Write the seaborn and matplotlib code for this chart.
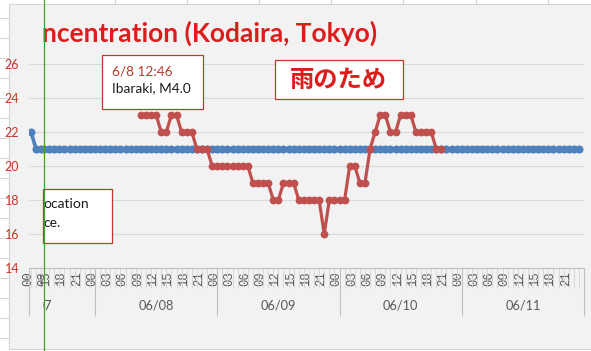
import matplotlib
matplotlib.use("Agg")
import matplotlib.pyplot as plt
from matplotlib.lines import Line2D
from matplotlib.patches import Rectangle
from matplotlib.transforms import Bbox, TransformedBbox
from matplotlib.ticker import FixedLocator, FuncFormatter
import seaborn as sns
import pandas as pd

# ---------------- data ----------------
day_labels = ["06/07", "06/08", "06/09", "06/10", "06/11"]
hour_labels = ["00", "03", "06", "09", "12", "15", "18", "21"]
y_ticks = [14, 16, 18, 20, 22, 24, 26]

# hourly values, first one at 06/07 00:00
blue_start_hour = 0
blue_values = [
    22, 21, 21, 21, 21, 21, 21, 21, 21, 21, 21, 21, 21, 21, 21, 21, 21, 21, 21, 21, 21, 21, 21, 21,  # 06/07
    21, 21, 21, 21, 21, 21, 21, 21, 21, 21, 21, 21, 21, 21, 21, 21, 21, 21, 21, 21, 21, 21, 21, 21,  # 06/08
    21, 21, 21, 21, 21, 21, 21, 21, 21, 21, 21, 21, 21, 21, 21, 21, 21, 21, 21, 21, 21, 21, 21, 21,  # 06/09
    21, 21, 21, 21, 21, 21, 21, 21, 21, 21, 21, 21, 21, 21, 21, 21, 21, 21, 21, 21, 21, 21, 21, 21,  # 06/10
    21, 21, 21, 21, 21, 21, 21, 21, 21, 21, 21, 21, 21, 21, 21, 21, 21, 21, 21, 21, 21, 21, 21, 21,  # 06/11
]
# hourly values, first one at 06/08 09:00
red_start_hour = 33
red_values = [
    23, 23, 23, 23, 22, 22, 23, 23, 22, 22, 22, 21, 21, 21, 20,
    20, 20, 20, 20, 20, 20, 20, 19, 19, 19, 19, 18, 18, 19, 19,
    19, 18, 18, 18, 18, 18, 16, 18, 18, 18, 18, 20, 20, 19, 19,
    21, 22, 23, 23, 22, 22, 23, 23, 23, 22, 22, 22, 22, 21, 21,
]

title_text = "ncentration (Kodaira, Tokyo)"
note_time = "6/8 12:46"
note_quake = "Ibaraki, M4.0"
note_rain = "雨のため"
note_left = ["ocation", "ce."]

blue_df = pd.DataFrame({"hour": [blue_start_hour + i for i in range(len(blue_values))],
                        "value": blue_values})
red_df = pd.DataFrame({"hour": [red_start_hour + i for i in range(len(red_values))],
                       "value": red_values})

# ---------------- layout ----------------
plt.rcParams["font.family"] = ["Lato", "Noto Sans CJK JP", "DejaVu Sans"]

W, H, DPI = 591, 351, 100
fig = plt.figure(figsize=(W / DPI, H / DPI), dpi=DPI, facecolor="white")


def fx(p):
    return p / W


def fy(p):
    return 1 - p / H


PLOT_L, PANE_X, PLOT_R, PLOT_T, PLOT_B = 29, 43, 584, 64, 268
DAY0_X = 95
PX_H = (PLOT_R - DAY0_X) / 96.0
AX_H = PLOT_B - PLOT_T
LEFT_OFF = 2.0 / PX_H  # first point sits ~2 px inside the plot area
HOUR_FS = 8.8
HOUR_PAD = 2.0

BLUE = "#4f81bd"
RED = "#c0504d"
GRID = "#d9d9d9"
TXT = "#595959"

# chart area background
fig.add_artist(Rectangle((fx(9), fy(349)), fx(600) - fx(9), fy(4) - fy(349),
                         transform=fig.transFigure, facecolor="#f2f2f2",
                         edgecolor="#d4d4d4", lw=0.8, zorder=-5))

ax_l = fig.add_axes([fx(PLOT_L), fy(PLOT_B), fx(PANE_X) - fx(PLOT_L), fy(PLOT_T) - fy(PLOT_B)])
ax_m = fig.add_axes([fx(PANE_X), fy(PLOT_B), fx(PLOT_R) - fx(PANE_X), fy(PLOT_T) - fy(PLOT_B)])

for ax in (ax_l, ax_m):
    sns.lineplot(data=blue_df, x="hour", y="value", ax=ax, color=BLUE, lw=2.6,
                 marker="o", markersize=5.8, markeredgewidth=0, zorder=3)
    sns.lineplot(data=red_df, x="hour", y="value", ax=ax, color=RED, lw=2.3,
                 marker="o", markersize=5.6, markeredgewidth=0, zorder=4)
    ax.set_facecolor("none")
    ax.set_ylim(14, 26)
    ax.set_yticks(y_ticks)
    ax.grid(axis="y", color=GRID, lw=0.8)
    ax.grid(axis="x", visible=False)
    ax.set_axisbelow(True)
    for s in ("left", "right", "top"):
        ax.spines[s].set_visible(False)
    ax.spines["bottom"].set_color("#bfbfbf")
    ax.spines["bottom"].set_linewidth(0.8)
    ax.set_xlabel("")
    ax.set_ylabel("")
    ax.xaxis.set_major_locator(FixedLocator(list(range(0, 120, 3))))
    ax.xaxis.set_minor_locator(FixedLocator(list(range(0, 121))))
    ax.xaxis.remove_overlapping_locs = False
    ax.xaxis.set_major_formatter(FuncFormatter(lambda v, p: hour_labels[(int(round(v)) % 24) // 3]))
    ax.tick_params(axis="x", which="minor", length=14.5, width=0.6, color="#d4d4d4")
    ax.tick_params(axis="x", which="major", length=0, pad=HOUR_PAD, labelrotation=90,
                   labelsize=HOUR_FS, labelcolor=TXT, labelfontfamily="Liberation Mono")

ax_l.set_xlim(-LEFT_OFF, (PANE_X - PLOT_L) / PX_H - LEFT_OFF)
ax_m.set_xlim(24 - (DAY0_X - PANE_X) / PX_H, 120)

for ax in (ax_l, ax_m):
    # Excel draws these rotated labels with their baseline on the tick
    plt.setp(ax.get_xticklabels(), rotation_mode="anchor", ha="right", va="baseline")

ax_l.tick_params(axis="y", length=0, pad=7, labelsize=9, labelcolor="#c0392b")
ax_m.tick_params(axis="y", length=0, labelleft=False)

# day separators
sep_depth = -(316 - PLOT_B) / AX_H
ax_m.vlines([24, 48, 72, 96, 120], 0, sep_depth, transform=ax_m.get_xaxis_transform(),
            colors="#bfbfbf", lw=0.8, clip_on=False)
ax_l.vlines([0], 0, sep_depth, transform=ax_l.transAxes,
            colors="#bfbfbf", lw=0.8, clip_on=False)

clip_right = TransformedBbox(Bbox([[fx(PANE_X), 0], [1, 1]]), fig.transFigure)
clip_left = TransformedBbox(Bbox([[0, 0], [fx(PANE_X), 1]]), fig.transFigure)

# day labels (group axis)
for i, lab in enumerate(day_labels):
    t = fig.text(12 + 24 * i, -(305 - PLOT_B) / AX_H, lab, transform=ax_m.get_xaxis_transform(),
                 ha="center", va="center", fontsize=9.2, color=TXT)
    t.set_clip_box(clip_right)
    t.set_clip_on(True)

# hour label cut by the frozen pane border
t = fig.text(3, -(HOUR_PAD * DPI / 72) / AX_H, hour_labels[1], transform=ax_l.get_xaxis_transform(),
             rotation=90, rotation_mode="anchor", ha="right", va="baseline",
             fontsize=HOUR_FS, color=TXT, family="Liberation Mono")
t.set_clip_box(clip_left)
t.set_clip_on(True)

# title
t = fig.text(fx(42), fy(42), title_text, ha="left", va="baseline", fontsize=19,
             fontweight="bold", color="#dd1c1c")
t.set_clip_box(clip_right)
t.set_clip_on(True)

# annotation boxes
def box(x0, y0, x1, y1):
    fig.add_artist(Rectangle((fx(x0), fy(y1)), fx(x1) - fx(x0), fy(y0) - fy(y1),
                             transform=fig.transFigure, facecolor="white",
                             edgecolor="#c0392b", lw=0.9, zorder=6))

box(102, 55, 203, 109)
fig.text(fx(112), fy(71), note_time, ha="left", va="center", fontsize=9.8, color="#c0392b", zorder=7)
fig.text(fx(112), fy(88), note_quake, ha="left", va="center", fontsize=9.8, color="#1a1a1a", zorder=7)

box(275, 60, 403, 99)
fig.text(fx(338), fy(80), note_rain, ha="center", va="center", fontsize=17.5, fontweight="bold",
         color="#dd1c1c", family=["Noto Sans CJK JP", "DejaVu Sans"], zorder=7)

box(43, 189, 112, 243)
fig.text(fx(43.5), fy(204), note_left[0], ha="left", va="center", fontsize=10, color="#1a1a1a", zorder=7)
fig.text(fx(43.5), fy(223), note_left[1], ha="left", va="center", fontsize=10, color="#1a1a1a", zorder=7)

# spreadsheet decorations around the chart
for yy in range(18, 351, 20):
    fig.add_artist(Line2D([0, fx(8)], [fy(yy), fy(yy)], transform=fig.transFigure,
                          color="#d4d4d4", lw=0.7, zorder=-4))
for xx in [115, 187, 259, 331, 403, 476, 548]:
    fig.add_artist(Line2D([fx(xx), fx(xx)], [fy(0), fy(4)], transform=fig.transFigure,
                          color="#d4d4d4", lw=0.7, zorder=-4))

# frozen pane divider
fig.add_artist(Line2D([fx(43.5), fx(43.5)], [0, 1], transform=fig.transFigure,
                      color="#4aa02c", lw=0.9, zorder=20))

fig.savefig("out.png", dpi=DPI)
